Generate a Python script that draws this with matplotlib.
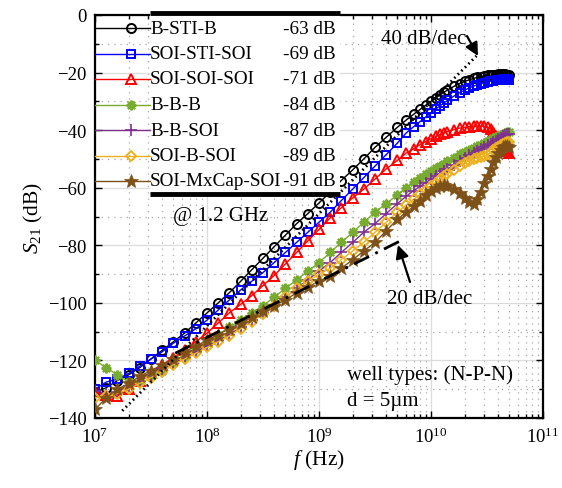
import numpy as np
import matplotlib
matplotlib.use('Agg')
import matplotlib.pyplot as plt
from matplotlib.patches import Rectangle
from matplotlib.ticker import MultipleLocator, LogLocator

plt.rcParams['font.family'] = ['Liberation Serif', 'DejaVu Serif']
plt.rcParams['mathtext.fontset'] = 'custom'
plt.rcParams['mathtext.rm'] = 'Liberation Serif'
plt.rcParams['mathtext.it'] = 'Liberation Serif:italic'
plt.rcParams['font.size'] = 13

# frequency points (GHz)
freq_ghz = [0.0100, 0.0126, 0.0158, 0.0200, 0.0251, 0.0316, 0.0398, 0.0501, 0.0631, 0.0794,
            0.100, 0.126, 0.158, 0.200, 0.251, 0.316, 0.398, 0.501, 0.631, 0.794,
            1.00, 1.26, 1.58, 2.00, 2.51, 3.16, 3.98, 5.01,
            6, 7, 8, 9, 10, 11, 12, 13, 14, 16, 18, 20, 22, 24, 26, 28, 30,
            32, 34, 36, 38, 40, 42, 44, 46, 48, 50]

# S21 (dB) per structure
b_sti_b = [-131, -129.5, -127, -125, -122.5, -119.5, -116.5, -113.5, -110.5, -107,
           -103.5, -100, -96.5, -92.5, -88.5, -84.5, -80.5, -76.5, -72.5, -69,
           -65.3, -61.5, -57.5, -53.8, -50, -46, -42.5, -39,
           -36.5, -34.5, -32.8, -31.3, -30, -28.8, -27.8, -26.9, -26.1, -24.8, -23.8,
           -23.1, -22.5, -22.0, -21.7, -21.4, -21.2, -21.0, -20.9, -20.8, -20.7,
           -20.6, -20.6, -20.6, -20.6, -20.7, -20.8]
soi_sti_soi = [-130, -127.5, -126.5, -124.5, -122, -119.5, -117, -114, -111.5, -109,
               -106, -102.5, -99, -95.5, -92.5, -89.5, -86, -82.5, -79, -75.5,
               -72, -68.5, -64.5, -60.5, -56.5, -52.5, -48.5, -44.5,
               -41, -38.8, -37, -35.4, -34, -32.7, -31.6, -30.6, -29.7, -28.2, -27.0,
               -26.1, -25.3, -24.7, -24.2, -23.8, -23.5, -23.2, -23.0, -22.8, -22.7,
               -22.6, -22.5, -22.4, -22.4, -22.4, -22.5]
soi_soi_soi = [-131, -132, -132.5, -130, -127, -124.5, -121.5, -119, -116.5, -113.5,
               -110.5, -107, -103.5, -100.5, -97.5, -94, -90.5, -86.5, -82.5, -78.5,
               -74.5, -70.5, -67, -63.5, -60.5, -57, -53.5, -50.5,
               -48, -46.5, -45, -44, -43, -42.2, -41.5, -41, -40.5, -39.8, -39.3,
               -39, -38.8, -38.7, -38.6, -38.6, -38.7, -39, -39.5, -40.5, -42,
               -43.5, -44.5, -45.5, -46.5, -47.3, -47.8]
b_b_b = [-120, -122.5, -125, -127.5, -127, -125.5, -123.5, -121, -118.5, -116,
         -113.5, -111, -108.5, -106, -103.5, -101, -98, -95, -92, -89,
         -86, -82.5, -79, -75.5, -72, -68.5, -65.5, -62.5,
         -60, -58, -56.5, -55.3, -54.2, -53.2, -52.4, -51.6, -50.8, -49.6, -48.4,
         -47.5, -46.8, -46.1, -45.5, -45, -44.4, -43.9, -43.4, -42.9, -42.4,
         -42, -41.6, -41.2, -40.9, -40.7, -40.8]
b_b_soi = [-130.5, -131.5, -131, -129, -127, -125, -123, -121, -119, -117,
           -115, -113, -111, -108.5, -106, -103.5, -101, -98, -95, -92,
           -89, -86, -82.5, -79, -75.5, -72.5, -69, -65.5,
           -63, -61, -59.5, -58.2, -57, -56, -55.1, -54.3, -53.5, -52.1, -50.8,
           -49.7, -48.7, -47.9, -47.2, -46.5, -45.9, -45.3, -44.7, -44.1, -43.6,
           -43.1, -42.6, -42.2, -41.8, -41.5, -41.5]
soi_b_soi = [-133, -132.5, -131.5, -130, -128, -126, -124, -121.5, -119.5, -117.5,
             -115.5, -113.5, -111.5, -109, -106.5, -104, -101, -98, -95, -92.5,
             -90, -88, -85, -82, -79, -75.5, -72, -68.5,
             -66, -64, -62.3, -60.8, -59.4, -58.2, -57.1, -56.1, -55.2, -53.7, -52.4,
             -51.4, -50.6, -50.0, -49.6, -49.3, -49.0, -48.5, -47.8, -47.0, -46.3,
             -45.7, -45.2, -44.7, -44.3, -44.0, -44.2]
soi_mxcap_soi = [-137, -133, -130, -128, -125.5, -123.5, -121.5, -119.5, -117, -115,
                 -113, -111, -109, -107, -105, -103, -101, -99, -96.5, -94.5,
                 -92.5, -90.5, -88, -85, -82, -79, -75, -71,
                 -68.5, -66.5, -64.5, -62.5, -61, -60, -59.5, -59, -59.5, -60.5, -62,
                 -63.5, -65, -65.5, -64, -61.5, -58.5, -56, -53.5, -51, -49.5,
                 -48, -47, -46, -45.5, -45.5, -46]

names = ['B-STI-B', 'SOI-STI-SOI', 'SOI-SOI-SOI', 'B-B-B', 'B-B-SOI', 'SOI-B-SOI', 'SOI-MxCap-SOI']
at_1g2 = ['-63 dB', '-69 dB', '-71 dB', '-84 dB', '-87 dB', '-89 dB', '-91 dB']
series = [b_sti_b, soi_sti_soi, soi_soi_soi, b_b_b, b_b_soi, soi_b_soi, soi_mxcap_soi]

# reference slope lines
slope40_f = [1.75e7, 2.55e10]
slope40_db = [-137.5, -14.2]
slope20_f = [5.2e7, 5.5e9]
slope20_db = [-117.5, -78.2]

styles = [
    dict(color='black', marker='o', mfc='none', ms=6.5, mew=1.4),
    dict(color='#0000FF', marker='s', mfc='none', ms=6, mew=1.4),
    dict(color='#FF0000', marker='^', mfc='none', ms=7, mew=1.4),
    dict(color='#77AC30', marker=(8, 2, 0), ms=7, mew=1.6),
    dict(color='#7E2F8E', marker='+', ms=8, mew=1.2),
    dict(color='#EDB120', marker='D', mfc='none', ms=5.5, mew=1.4),
    dict(color='#7E5118', marker='*', ms=10, mew=0.5),
]

f = np.array(freq_ghz) * 1e9

fig = plt.figure(figsize=(5.62, 4.89), dpi=100)
ax = fig.add_axes([95/562, 1-419/489, 448/562, 403/489])

for y, st in zip(series, styles):
    ax.plot(f, y, lw=1.0, zorder=3, **st)

ax.plot(slope40_f, slope40_db, color='black', lw=2, ls=(0, (0.6, 1.2)), zorder=4)
ax.plot(slope20_f, slope20_db, color='black', lw=2, ls=(0, (6, 2.5, 1, 2.5)), zorder=4)

ax.set_xscale('log')
ax.set_xlim(1e7, 1e11)
ax.set_ylim(-140, 0)
ax.yaxis.set_major_locator(MultipleLocator(20))
ax.yaxis.set_minor_locator(MultipleLocator(10))
ax.xaxis.set_major_locator(LogLocator(base=10, numticks=10))
ax.xaxis.set_minor_locator(LogLocator(base=10, subs=np.arange(2, 10), numticks=20))

ax.grid(True, which='major', color='#dcdcdc', lw=0.9, ls='-', zorder=0)
ax.grid(True, which='minor', color='#a8a8a8', lw=0.9, ls=(0, (1, 4)), zorder=0)
ax.set_axisbelow(True)
ax.tick_params(which='both', direction='in', top=True, right=True, width=1.0)
ax.tick_params(which='major', length=5, labelsize=13.5, pad=6)
ax.tick_params(which='minor', length=3)
for s in ax.spines.values():
    s.set_linewidth(1.6)

ax.set_xlabel(r'$\mathit{f}$ (Hz)', fontsize=15.5, labelpad=1)
ax.set_ylabel(r'$\mathit{S}_{21}$ (dB)', fontsize=15.5, labelpad=2)

# legend drawn by hand (white box, thick top/bottom rules, samples to the left)
tx = ax.transAxes
x0, x1 = (150-95)/448, (340-95)/448
ytop, ybot = (419-14)/403, (419-195)/403
ax.add_patch(Rectangle((x0, ybot), x1-x0, ytop-ybot, transform=tx, facecolor='white',
                       edgecolor='none', zorder=5, clip_on=False))
ax.plot([x0, x1], [ytop, ytop], transform=tx, color='black', lw=3.5, zorder=6, clip_on=False,
        solid_capstyle='butt')
ax.plot([x0, x1], [ybot, ybot], transform=tx, color='black', lw=3.5, zorder=6, clip_on=False,
        solid_capstyle='butt')
for i, (nm, val, st) in enumerate(zip(names, at_1g2, styles)):
    yy = (419 - (29 + 25.5*i))/403
    ax.plot([0.0, x0], [yy, yy], transform=tx, color=st['color'], lw=1.0, zorder=6, clip_on=False)
    mk = {k: v for k, v in st.items() if k != 'color'}
    ax.plot([(131-95)/448], [yy], transform=tx, color=st['color'], lw=0, zorder=7, clip_on=False, **mk)
    ax.text(x0, yy, nm, transform=tx, ha='left', va='center', fontsize=13.8, zorder=7)
    ax.text((336-95)/448, yy, val, transform=tx, ha='right', va='center', fontsize=13.8, zorder=7)

ax.text((221-95)/448, (419-217)/403, '@ 1.2 GHz', transform=tx, ha='center', va='center', fontsize=15)
ax.text((424-95)/448, (419-40)/403, '40 dB/dec', transform=tx, ha='center', va='center', fontsize=15)
ax.text((430-95)/448, (419-300)/403, '20 dB/dec', transform=tx, ha='center', va='center', fontsize=15)
ax.text((347-95)/448, (419-375)/403, 'well types: (N-P-N)', transform=tx, ha='left', va='center', fontsize=15)
ax.text((347-95)/448, (419-402)/403, 'd = 5\u00b5m', transform=tx, ha='left', va='center', fontsize=15)

arrow = dict(arrowstyle='-|>,head_length=0.6,head_width=0.3', color='black', lw=1.6, shrinkA=0, shrinkB=0)
ax.annotate('', xy=((478-95)/448, (419-57)/403), xytext=((467-95)/448, (419-37)/403),
            xycoords=tx, textcoords=tx, arrowprops=arrow, zorder=6)
ax.annotate('', xy=((398-95)/448, (419-246)/403), xytext=((410-95)/448, (419-283)/403),
            xycoords=tx, textcoords=tx, arrowprops=arrow, zorder=6)

fig.savefig('out.png', dpi=100)
